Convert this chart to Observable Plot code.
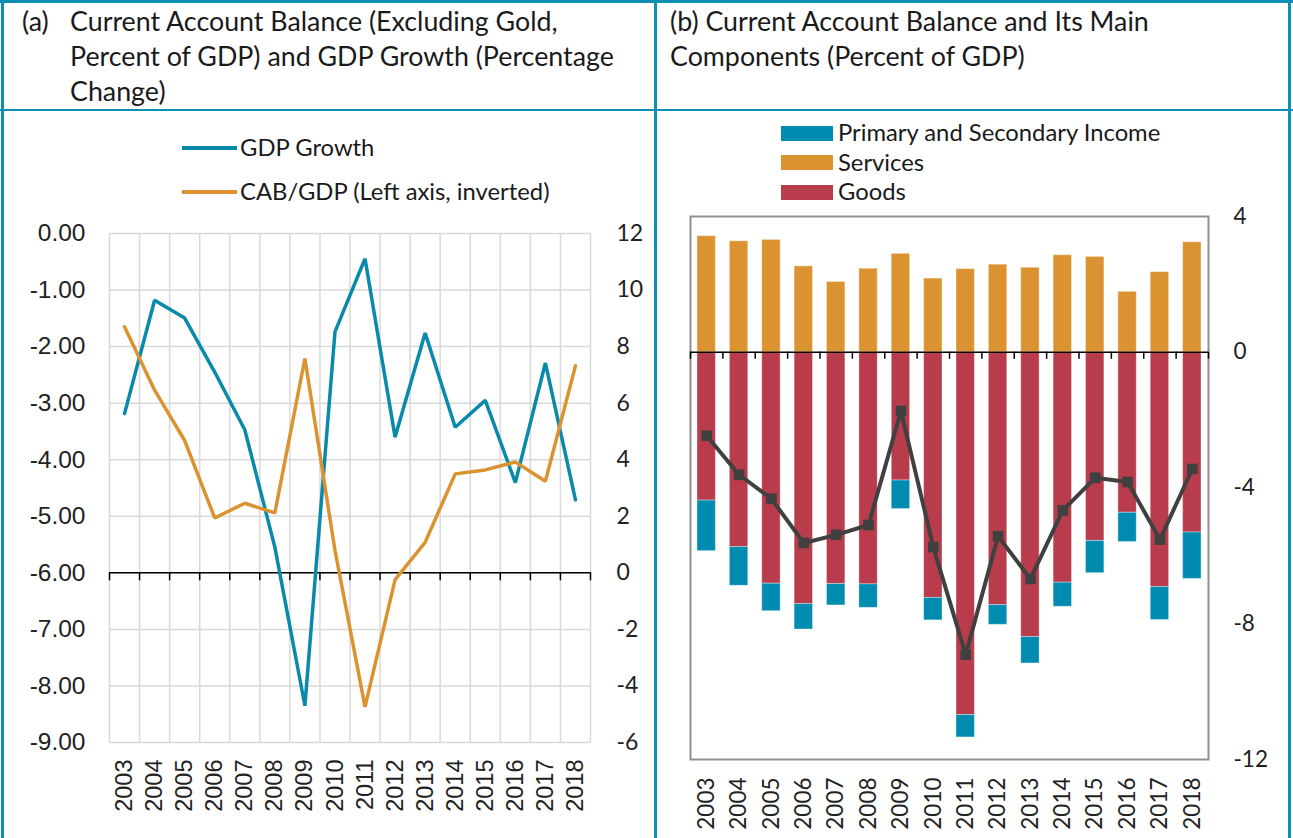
<!DOCTYPE html>
<html><head><meta charset="utf-8">
<script src="https://cdn.jsdelivr.net/npm/d3@7"></script>
<script src="https://cdn.jsdelivr.net/npm/@observablehq/plot@0.6"></script>
<style>
body{margin:0;background:#fff;}
#root{position:relative;width:1293px;height:838px;overflow:hidden;font-family:Lato,sans-serif;color:#1a1a1a;}
.abs{position:absolute;}
.title{font-size:26.8px;line-height:35px;white-space:nowrap;}
.bd{position:absolute;background:#0b8fb3;}
.leg{position:absolute;font-size:23.8px;white-space:nowrap;line-height:28px;}
.sw{position:absolute;}
.plotbox{position:absolute;}
.plotbox svg{overflow:visible;}
.lc [aria-label^="x-axis"] text{font-family:"Liberation Sans",Arial,sans-serif;font-size:23.5px;}
.lc2 [aria-label^="y-axis"] text{font-family:"Liberation Sans",Arial,sans-serif;font-size:24.5px;}
</style></head><body><div id="root"></div>
<script>
// ---------- data ----------
const years = [2003,2004,2005,2006,2007,2008,2009,2010,2011,2012,2013,2014,2015,2016,2017,2018];
// Panel (a)
const cabInverted = [-1.65,-2.77,-3.66,-5.03,-4.77,-4.94,-2.21,-5.60,-8.37,-6.12,-5.46,-4.25,-4.18,-4.04,-4.38,-2.34];
const gdpGrowth   = [5.63,9.64,9.01,7.10,5.06,0.91,-4.70,8.52,11.11,4.80,8.48,5.15,6.10,3.19,7.42,2.58];
const leftTicks   = [0,-1,-2,-3,-4,-5,-6,-7,-8,-9];
const rightTicksA = [12,10,8,6,4,2,0,-2,-4,-6];
// Panel (b)
const services = [3.42,3.27,3.31,2.53,2.07,2.46,2.90,2.17,2.45,2.58,2.49,2.86,2.81,1.78,2.36,3.24];
const goods    = [-4.37,-5.74,-6.82,-7.42,-6.83,-6.84,-3.78,-7.24,-10.69,-7.45,-8.39,-6.79,-5.56,-4.73,-6.92,-5.31];
const income   = [-1.49,-1.14,-0.81,-0.75,-0.63,-0.69,-0.84,-0.66,-0.66,-0.58,-0.78,-0.71,-0.95,-0.86,-0.97,-1.37];
const cabTotal = [-2.46,-3.61,-4.32,-5.62,-5.38,-5.09,-1.73,-5.74,-8.91,-5.42,-6.68,-4.66,-3.70,-3.82,-5.52,-3.44];
const rightTicksB = [4,0,-4,-8,-12];
const seriesNames = ["Goods","Services","Primary and Secondary Income"];
const legendOrderB = ["Primary and Secondary Income","Services","Goods"];

const C_TEAL = "#0a8aab", C_ORANGE = "#db9332", C_RED = "#b83c4b", C_INC = "#008bb0", C_LINE = "#404040";
const colorB = {"Goods": C_RED, "Services": C_ORANGE, "Primary and Secondary Income": C_INC};

const root = document.getElementById("root");
function el(tag, cls, css, html){const e=document.createElement(tag); if(cls) e.className=cls; if(css) e.style.cssText=css; if(html!=null) e.innerHTML=html; root.appendChild(e); return e;}

// ---------- borders ----------
el("div","bd","left:0;top:0;width:1293px;height:3px;");
el("div","bd","left:1px;top:0;width:3px;height:838px;");
el("div","bd","left:654px;top:0;width:3px;height:838px;");
el("div","bd","left:1288px;top:0;width:3px;height:838px;");
el("div","bd","left:0;top:109px;width:1293px;height:2px;");

// ---------- titles ----------
el("div","title abs","left:22px;top:4px;","(a)");
el("div","title abs","left:70px;top:4px;","Current Account Balance (Excluding Gold,<br>Percent of GDP) and GDP Growth (Percentage<br>Change)");
el("div","title abs","left:670px;top:4px;","(b) Current Account Balance and Its Main<br>Components (Percent of GDP)");

// ---------- panel (a) ----------
const bounds = years.map(y => y - 0.5).concat([years[years.length-1] + 0.5]);
const gdpRows = years.map((y,i) => ({year: y, value: gdpGrowth[i]}));
const cabRowsA = years.map((y,i) => ({year: y, value: cabInverted[i]}));

const A = {width: 655, height: 618, marginLeft: 109, marginRight: 65, marginTop: 13, marginBottom: 96};
const styleA = {background: "transparent", fontFamily: "Lato, sans-serif", fontSize: "23px", color: "#222", overflow: "visible"};

const aBottom = Plot.plot({
  ...A, style: styleA,
  x: {domain: [2002.5, 2018.5], ticks: years, tickFormat: d => String(d), tickRotate: -90, tickSize: 0, tickPadding: 17, label: null},
  y: {domain: [-6, 12], axis: "right", ticks: rightTicksA, tickFormat: d => String(d), tickSize: 0, tickPadding: 26, label: null},
  marks: [
    Plot.ruleY(rightTicksA, {stroke: "#d9d9d9", strokeWidth: 1.5}),
    Plot.ruleX(bounds, {stroke: "#d9d9d9", strokeWidth: 1.5}),
    Plot.ruleY([0], {stroke: "#000", strokeWidth: 1.5}),
    Plot.ruleX(bounds, {y1: 0, y2: 0, insetBottom: -8, stroke: "#000", strokeWidth: 1.5}),
    Plot.line(gdpRows, {x: "year", y: "value", stroke: C_TEAL, strokeWidth: 3.5, strokeLinejoin: "miter"})
  ]
});
const aTop = Plot.plot({
  ...A, style: styleA,
  x: {domain: [2002.5, 2018.5], axis: null},
  y: {domain: [-9, 0], ticks: leftTicks, tickFormat: d => d.toFixed(2), tickSize: 0, tickPadding: 24, label: null},
  marks: [
    Plot.line(cabRowsA, {x: "year", y: "value", stroke: C_ORANGE, strokeWidth: 3.5, strokeLinejoin: "miter"})
  ]
});
const boxA1 = el("div","plotbox lc","left:0;top:220px;"); boxA1.appendChild(aBottom);
const boxA2 = el("div","plotbox lc2","left:0;top:220px;"); boxA2.appendChild(aTop);

// legend (a)
const legA = [["GDP Growth", C_TEAL, 148], ["CAB/GDP (Left axis, inverted)", C_ORANGE, 192]];
legA.forEach(([name, c, y]) => {
  el("div","sw",`left:182px;top:${y-2}px;width:55px;height:3.5px;background:${c};`);
  el("div","leg",`left:240px;top:${y-15}px;`, name);
});

// ---------- panel (b) ----------
const rowsB = [];
years.forEach((y,i) => {
  rowsB.push({year: y, type: "Goods", value: goods[i]});
  rowsB.push({year: y, type: "Services", value: services[i]});
  rowsB.push({year: y, type: "Primary and Secondary Income", value: income[i]});
});
const cabRowsB = years.map((y,i) => ({year: y, value: cabTotal[i]}));

const bPlot = Plot.plot({
  width: 637, height: 638, marginLeft: 34, marginRight: 85, marginTop: 16, marginBottom: 79,
  style: {background: "transparent", fontFamily: "Lato, sans-serif", fontSize: "22.5px", color: "#222", overflow: "visible"},
  x: {domain: [2002.5, 2018.5], ticks: years, tickFormat: d => String(d), tickRotate: -90, tickSize: 0, tickPadding: 18, label: null},
  y: {domain: [-12, 4], axis: "right", ticks: rightTicksB, tickFormat: d => String(d), tickSize: 0, tickPadding: 25, label: null},
  color: {domain: seriesNames, range: seriesNames.map(s => colorB[s])},
  marks: [
    Plot.rectY(rowsB, Plot.stackY({x1: d => d.year - 0.5, x2: d => d.year + 0.5, y: "value", fill: "type", insetLeft: 7, insetRight: 7, stroke: "#ffffff", strokeOpacity: 0.35, strokeWidth: 1})),
    Plot.frame({stroke: "#8f8f8f", strokeWidth: 2}),
    Plot.ruleY([0], {stroke: "#000", strokeWidth: 1.5}),
    Plot.ruleX(bounds, {y1: 0, y2: 0, insetBottom: -7, stroke: "#000", strokeWidth: 1.5}),
    Plot.line(cabRowsB, {x: "year", y: "value", stroke: C_LINE, strokeWidth: 4}),
    Plot.dot(cabRowsB, {x: "year", y: "value", symbol: "square", r: 6, fill: C_LINE, stroke: "none"})
  ]
});
const boxB = el("div","plotbox","left:656px;top:200px;"); boxB.appendChild(bPlot);

// legend (b)
legendOrderB.forEach((name, i) => {
  const y = 133 + i * 29.5;
  el("div","sw",`left:781px;top:${y-7.5}px;width:52px;height:15px;background:${colorB[name]};`);
  el("div","leg",`left:838px;top:${y-15}px;`, name);
});
</script></body></html>
